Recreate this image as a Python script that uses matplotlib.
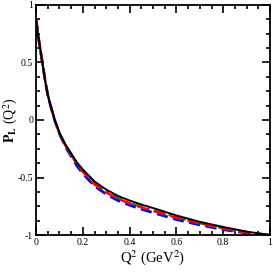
import numpy as np
import matplotlib.pyplot as plt
from matplotlib.ticker import MultipleLocator

q2 = [0, 0.005, 0.01, 0.02, 0.03, 0.04, 0.05, 0.06, 0.08, 0.10, 0.125, 0.15,
      0.175, 0.2, 0.25, 0.3, 0.35, 0.4, 0.45, 0.5, 0.6, 0.7, 0.8, 0.9, 1.0]
p_black = [0.88, 0.80, 0.72, 0.59, 0.46, 0.33, 0.22, 0.14, 0.0, -0.11, -0.21, -0.29,
           -0.37, -0.43, -0.535, -0.605, -0.66, -0.70, -0.735, -0.765, -0.83, -0.885, -0.93, -0.97, -1.0]
p_red = [0.88, 0.80, 0.72, 0.59, 0.46, 0.33, 0.22, 0.14, 0.0, -0.115, -0.22, -0.30,
         -0.385, -0.45, -0.56, -0.63, -0.685, -0.725, -0.76, -0.79, -0.85, -0.90, -0.945, -0.978, -1.0]
p_green = [0.88, 0.80, 0.72, 0.59, 0.46, 0.33, 0.22, 0.14, 0.0, -0.115, -0.22, -0.30,
           -0.38, -0.445, -0.555, -0.625, -0.68, -0.72, -0.755, -0.785, -0.845, -0.897, -0.942, -0.976, -1.0]
p_blue = [0.88, 0.80, 0.72, 0.59, 0.46, 0.33, 0.22, 0.14, -0.005, -0.12, -0.23, -0.315,
          -0.40, -0.465, -0.575, -0.645, -0.70, -0.74, -0.775, -0.805, -0.865, -0.912, -0.953, -0.982, -1.0]

plt.rcParams['font.family'] = ['Liberation Serif', 'DejaVu Serif']
plt.rcParams['mathtext.fontset'] = 'stix'

fig = plt.figure(figsize=(2.73, 2.73), dpi=100)
ax = fig.add_axes([0.132, 0.139, 0.857, 0.843])

ax.plot(q2, p_blue, color='blue', lw=2.0, dashes=(4, 2))
ax.plot(q2, p_green, color='green', lw=1.6, dashes=(5, 2, 1, 2))
ax.plot(q2, p_red, color='red', lw=1.8, dashes=(5, 2))
ax.plot(q2, p_black, color='black', lw=1.4)

ax.set_xlim(0, 1)
ax.set_ylim(-1, 1)
ax.xaxis.set_minor_locator(MultipleLocator(0.05))
ax.yaxis.set_minor_locator(MultipleLocator(0.125))
ax.set_xticks([0, 0.2, 0.4, 0.6, 0.8, 1.0])
ax.set_xticklabels(['0', '0.2', '0.4', '0.6', '0.8', '1'])
ax.set_yticks([-1, -0.5, 0, 0.5, 1])
ax.set_yticklabels(['-1', '-0.5', '0', '0.5', '1'])
ax.tick_params(which='both', direction='in', top=True, right=True, labelsize=7, width=1.2, pad=2)
ax.tick_params(which='major', length=6)
ax.tick_params(which='minor', length=3)
for s in ax.spines.values():
    s.set_linewidth(1.3)

ax.set_xlabel(r'Q$^2$ (GeV$^2$)', fontsize=10.5, labelpad=1)
ax.set_ylabel(r'$\mathbf{P_L}$ (Q$^2$)', fontsize=10)
ax.yaxis.set_label_coords(-0.07, 0.5)

fig.savefig('out.png', dpi=100)
